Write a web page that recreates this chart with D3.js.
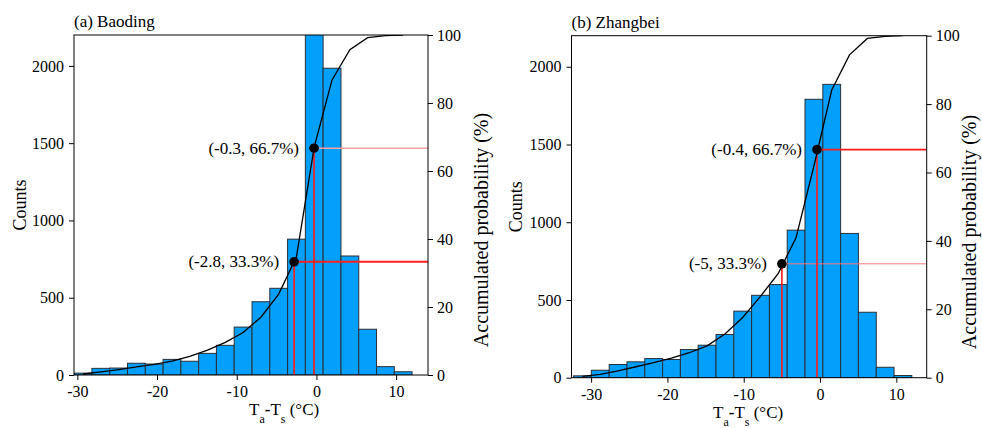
<!DOCTYPE html>
<html>
<head>
<meta charset="utf-8">
<script src="https://cdn.jsdelivr.net/npm/d3@7"></script>
<style>
  body { margin: 0; background: #fff; }
  svg, svg text { font-family: "Liberation Serif", "DejaVu Serif", "Times New Roman", serif; }
</style>
</head>
<body>
<svg id="drawing_region"></svg>
<script>
// bin edges (°C), counts and accumulated probability (%)
const baoding_edges = [-30.4, -28.17, -25.94, -23.71, -21.47, -19.24, -17.01, -14.78, -12.55, -10.32,
                       -8.08, -5.85, -3.62, -1.39, 0.84, 3.08, 5.31, 7.54, 9.77, 12.0];
const baoding_counts = [12, 43, 45, 76, 71, 101, 89, 140, 192, 310, 474, 561, 879, 2500, 1985, 770, 296, 54, 21];
const baoding_cum = [0.3, 0.9, 1.6, 2.4, 3.1, 4.1, 5.5, 7.3, 9.6, 12.5, 17.0, 23.8, 34.8, 67.1, 86.8, 95.7, 99.2, 99.8, 100];
const baoding_q = [-2.8, -0.3];
const baoding_q_labels = ["(-2.8, 33.3%)", "(-0.3, 66.7%)"];

const zhangbei_edges = [-32.3, -29.97, -27.63, -25.3, -22.97, -20.63, -18.3, -15.97, -13.63, -11.3,
                        -8.97, -6.63, -4.3, -1.97, 0.37, 2.7, 5.03, 7.37, 9.7, 12.03];
const zhangbei_counts = [12, 48, 85, 102, 123, 117, 181, 209, 278, 428, 530, 599, 949, 1791, 1887, 928, 421, 67, 14];
const zhangbei_cum = [0.4, 1.0, 2.0, 3.2, 4.4, 5.7, 7.3, 9.3, 12.8, 17.6, 23.8, 30.5, 41.0, 61.9, 84.1, 94.4, 99.2, 99.8, 100];
const zhangbei_q = [-5, -0.4];
const zhangbei_q_labels = ["(-5, 33.3%)", "(-0.4, 66.7%)"];

const q_probs = [33.3, 66.7];
const count_ticks = [0, 500, 1000, 1500, 2000];
const prob_ticks = [0, 20, 40, 60, 80, 100];
const temp_ticks = [-30, -20, -10, 0, 10];

const FONT = '"Liberation Serif", "DejaVu Serif", serif';

const svg = d3.select('#drawing_region')
    .attr('width', 982)
    .attr('height', 428)
    .attr('font-family', FONT);

class HistPanel {
    constructor( config, data ) {
        this.config = config;
        this.data = data;
        this.init();
    }

    init() {
        let self = this;
        let c = self.config;
        self.chart = svg.append('g')
            .attr('transform', `translate(${c.left}, ${c.top})`);
        self.inner_width = c.width;
        self.inner_height = c.height;

        self.xscale = d3.scaleLinear().domain(c.xdomain).range([0, self.inner_width]);
        self.yscale = d3.scaleLinear().domain([0, 2200]).range([self.inner_height, 0]);
        self.pscale = d3.scaleLinear().domain([0, 100]).range([self.inner_height, 0]);

        self.chart.append('clipPath').attr('id', c.id + '_clip')
            .append('rect').attr('width', self.inner_width).attr('height', self.inner_height);
        self.plot = self.chart.append('g').attr('clip-path', `url(#${c.id}_clip)`);
    }

    text(parent) {
        return parent.append('text').attr('font-family', FONT).attr('fill', '#000');
    }

    render() {
        let self = this;
        let c = self.config;
        let d = self.data;
        let bins = d.counts.map((v, i) => ({ x0: d.edges[i], x1: d.edges[i + 1], n: v }));

        self.plot.selectAll('rect.bar')
            .data(bins)
            .enter()
            .append('rect')
            .attr('class', 'bar')
            .attr('x', b => self.xscale(b.x0))
            .attr('y', b => self.yscale(b.n))
            .attr('width', b => self.xscale(b.x1) - self.xscale(b.x0))
            .attr('height', b => self.inner_height - self.yscale(b.n))
            .attr('fill', '#02a0fb')
            .attr('stroke', '#2a2f36')
            .attr('stroke-width', 1);

        // quantile guide lines
        d.q.forEach((qx, i) => {
            self.plot.append('line')
                .attr('x1', self.xscale(qx)).attr('x2', self.xscale(qx))
                .attr('y1', self.pscale(0)).attr('y2', self.pscale(q_probs[i]))
                .attr('stroke', '#ff1a1a').attr('stroke-width', 1.6);
            self.plot.append('line')
                .attr('x1', self.xscale(qx)).attr('x2', self.inner_width)
                .attr('y1', self.pscale(q_probs[i])).attr('y2', self.pscale(q_probs[i]))
                .attr('stroke', c.hcolors[i]).attr('stroke-width', c.hwidths[i]);
        });

        let centers = bins.map(b => (b.x0 + b.x1) / 2);
        let line = d3.line()
            .x((v, i) => self.xscale(centers[i]))
            .y(v => self.pscale(v));
        self.plot.append('path')
            .datum(d.cum)
            .attr('d', line)
            .attr('fill', 'none')
            .attr('stroke', '#000')
            .attr('stroke-width', 1.3);

        d.q.forEach((qx, i) => {
            self.plot.append('circle')
                .attr('cx', self.xscale(qx))
                .attr('cy', self.pscale(q_probs[i]))
                .attr('r', 4.8)
                .attr('fill', '#000');
            self.text(self.chart)
                .attr('x', self.xscale(qx) - 15)
                .attr('y', self.pscale(q_probs[i]) + 5.5)
                .attr('text-anchor', 'end')
                .attr('font-size', '17px')
                .text(d.labels[i]);
        });

        // frame
        self.chart.append('rect')
            .attr('width', self.inner_width).attr('height', self.inner_height)
            .attr('fill', 'none').attr('stroke', '#000').attr('stroke-width', 1);

        let style_axis = g => {
            g.attr('font-family', FONT);
            g.selectAll('path.domain').remove();
            g.selectAll('line').attr('stroke', '#000');
            g.selectAll('text').attr('font-size', '16px').attr('fill', '#000')
                .attr('font-family', FONT);
        };

        self.chart.append('g')
            .attr('transform', `translate(0, ${self.inner_height})`)
            .call(d3.axisBottom(self.xscale).tickValues(temp_ticks).tickSize(5).tickPadding(6)
                .tickFormat(v => v < 0 ? '-' + Math.abs(v) : v))
            .call(style_axis);
        self.chart.append('g')
            .call(d3.axisLeft(self.yscale).tickValues(count_ticks).tickSize(5).tickPadding(5)
                .tickFormat(d3.format('d')))
            .call(style_axis);
        self.chart.append('g')
            .attr('transform', `translate(${self.inner_width}, 0)`)
            .call(d3.axisRight(self.pscale).tickValues(prob_ticks).tickSize(5).tickPadding(4)
                .tickFormat(d3.format('d')))
            .call(style_axis);

        self.text(self.chart)
            .attr('x', 0).attr('y', -8)
            .attr('font-size', '17px')
            .text(c.title);

        self.text(self.chart)
            .attr('transform', `translate(${c.ylab_x - c.left}, ${self.inner_height / 2}) rotate(-90)`)
            .attr('text-anchor', 'middle')
            .attr('dy', '0.33em')
            .attr('font-size', '18px')
            .text('Counts');

        self.text(self.chart)
            .attr('transform', `translate(${c.plab_x - c.left}, ${c.plab_y - c.top}) rotate(-90)`)
            .attr('text-anchor', 'middle')
            .attr('dy', '0.33em')
            .attr('font-size', '20px')
            .text('Accumulated probability (%)');

        let xl = self.text(self.chart)
            .attr('x', c.xlab_x - c.left)
            .attr('y', self.inner_height + 40)
            .attr('font-size', '17px');
        xl.append('tspan').text('T');
        xl.append('tspan').attr('dy', 8).attr('font-size', '12px').text('a');
        xl.append('tspan').attr('dy', -8).attr('font-weight', 'bold').text('-');
        xl.append('tspan').text('T');
        xl.append('tspan').attr('dy', 8).attr('font-size', '12px').text('s');
        xl.append('tspan').attr('dy', -8).text('\u00a0(°C)');
    }
}

const left_panel = new HistPanel({
    id: 'a', left: 74, top: 35, width: 354, height: 340,
    xdomain: [-30.42, 14.0],
    title: '(a) Baoding',
    hcolors: ['#ff2020', '#ffa0a0'], hwidths: [2, 1.5],
    ylab_x: 20, plab_x: 481, plab_y: 230, xlab_x: 249
}, { edges: baoding_edges, counts: baoding_counts, cum: baoding_cum, q: baoding_q, labels: baoding_q_labels });
left_panel.render();

const right_panel = new HistPanel({
    id: 'b', left: 571.5, top: 35.7, width: 355.2, height: 342,
    xdomain: [-32.57, 13.98],
    title: '(b) Zhangbei',
    hcolors: ['#ff7878', '#ff1a1a'], hwidths: [1, 1.6],
    ylab_x: 516, plab_x: 969, plab_y: 232, xlab_x: 713
}, { edges: zhangbei_edges, counts: zhangbei_counts, cum: zhangbei_cum, q: zhangbei_q, labels: zhangbei_q_labels });
right_panel.render();
</script>
</body>
</html>
